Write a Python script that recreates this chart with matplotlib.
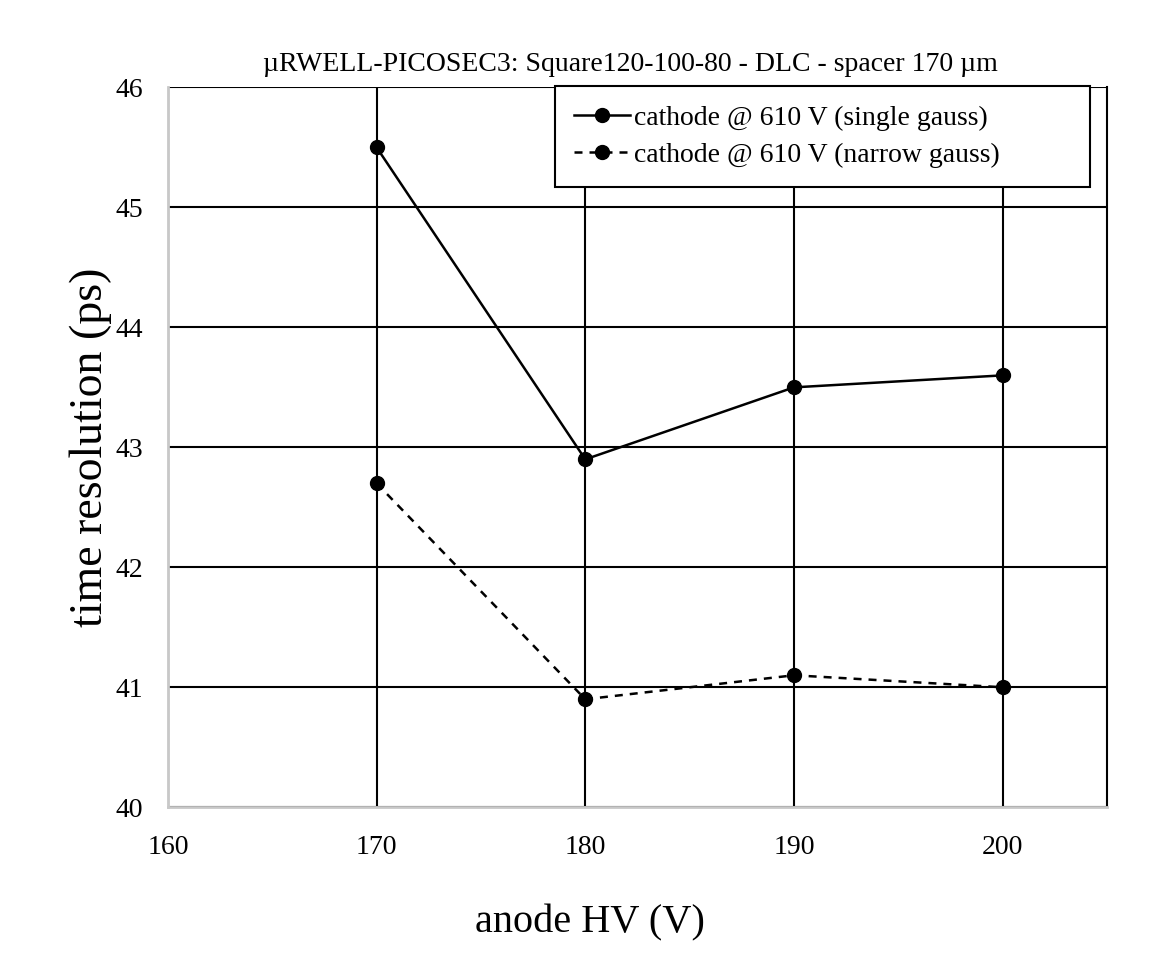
import matplotlib
matplotlib.use("Agg")
import matplotlib.pyplot as plt

anode_hv = [170, 180, 190, 200]
single_gauss = [45.5, 42.9, 43.5, 43.6]
narrow_gauss = [42.7, 40.9, 41.1, 41.0]

x_ticks = [160, 170, 180, 190, 200]
y_ticks = [40, 41, 42, 43, 44, 45, 46]

plt.rcParams['font.family'] = ['Liberation Serif', 'DejaVu Serif']

fig = plt.figure(figsize=(11.75, 9.61), dpi=100)
ax = fig.add_axes([0.143, 0.160, 0.799, 0.749])

ax.plot(anode_hv, single_gauss, color="black", linewidth=1.8, marker="o",
        markersize=10, label="cathode @ 610 V (single gauss)", zorder=3)
ax.plot(anode_hv, narrow_gauss, color="black", linewidth=1.8, linestyle=(0, (3.2, 2.8)),
        marker="o", markersize=10, label="cathode @ 610 V (narrow gauss)", zorder=3)

ax.set_xlim(160, 205)
ax.set_ylim(40, 46)
ax.set_xticks(x_ticks)
ax.set_yticks(y_ticks)
ax.grid(True, color="black", linewidth=1.5)
ax.set_axisbelow(True)
ax.tick_params(length=0, labelsize=20)
ax.tick_params(axis="y", pad=18)
ax.tick_params(axis="x", pad=20)

# excel-style frame: light axis lines on the left/bottom, dark edge on the right
ax.spines["top"].set_visible(False)
ax.spines["right"].set_color("black")
ax.spines["right"].set_linewidth(1.5)
for side in ("left", "bottom"):
    ax.spines[side].set_color("#c8c8c8")
    ax.spines[side].set_linewidth(2)

ax.set_title("\u00b5RWELL-PICOSEC3: Square120-100-80 - DLC - spacer 170 \u00b5m",
             fontsize=20, pad=12, x=0.493)
ax.set_xlabel("anode HV (V)", fontsize=29)
ax.xaxis.set_label_coords(0.449, -0.135)
ax.set_ylabel("time resolution (ps)", fontsize=33)
ax.yaxis.set_label_coords(-0.060, 0.5)

leg = ax.legend(loc="upper left", bbox_to_anchor=(0.412, 0.861, 0.570, 0.141),
                mode="expand", borderaxespad=0, fontsize=20,
                fancybox=False, framealpha=1, edgecolor="black",
                handlelength=2, handletextpad=0.15, borderpad=0.7, labelspacing=0.42)
leg.get_frame().set_linewidth(1.5)

fig.savefig("out.png", dpi=100)
